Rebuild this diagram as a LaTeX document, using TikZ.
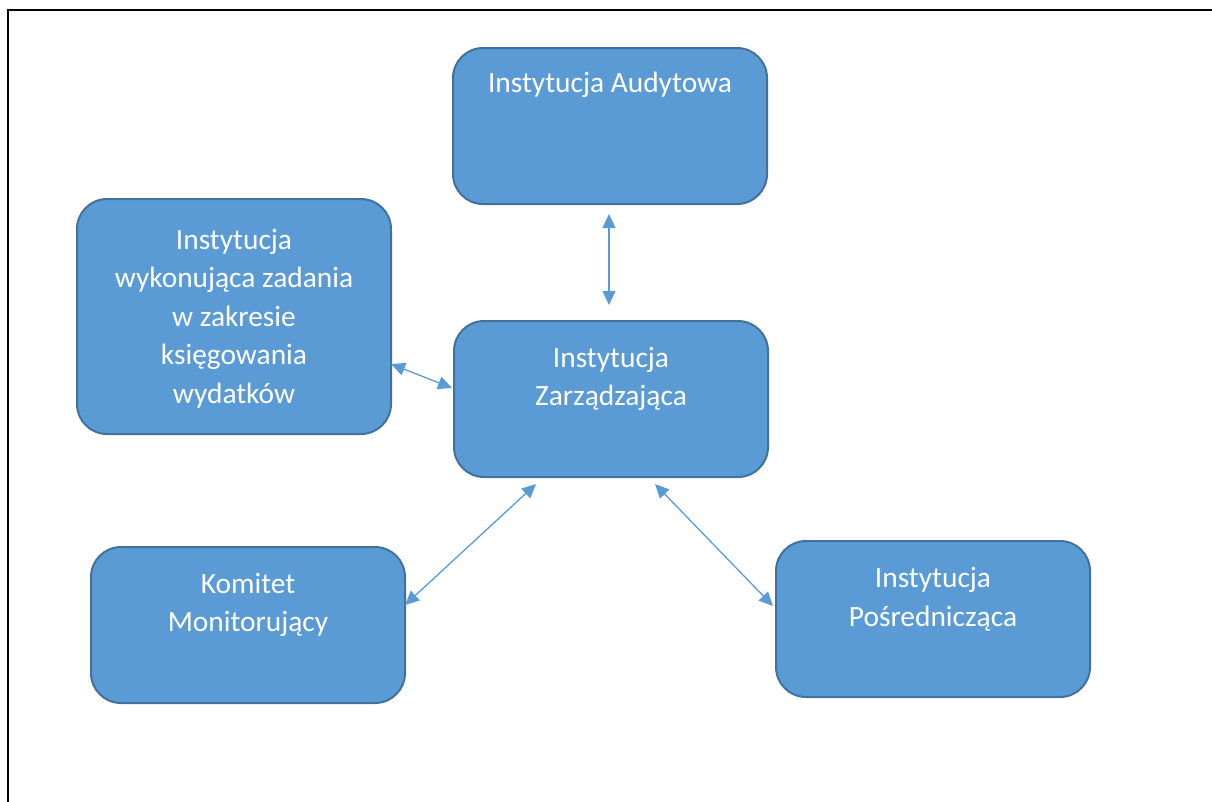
\documentclass[tikz,border=0pt]{standalone}
\usepackage{fontspec}
\setmainfont{Carlito}
\usetikzlibrary{arrows.meta,calc}
\definecolor{boxfill}{HTML}{5B9BD5}
\definecolor{boxline}{HTML}{41719C}
\tikzset{
  box/.style={draw=boxline, fill=boxfill, line width=2pt, rounded corners=30pt,
    minimum width=314pt, minimum height=156pt, inner sep=0pt, anchor=north west},
  txt/.style={text=white, align=center, font=\fontsize{29.4}{38.5}\selectfont, inner sep=0pt},
  link/.style={draw=boxfill, line width=1.3pt, {Triangle[length=14pt,width=13pt]}-{Triangle[length=14pt,width=13pt]}}
}
\begin{document}
\begin{tikzpicture}[x=1pt,y=-1pt]
\useasboundingbox (0,0) rectangle (1212,801);
\draw[line width=2.5pt] (8,812) -- (8,10) -- (1220,10);
% boxes
\node[box] (aud) at (452,47) {};
\node[box, minimum height=235pt] (wyk) at (76,198) {};
\node[box] (zarz) at (453,320) {};
\node[box] (kom) at (90,546) {};
\node[box] (pos) at (775,540) {};
% texts
\node[txt] (taud) at ($(aud.north)+(0,38)$) {Instytucja Audytowa};
\node[txt] (twyk) at ($(wyk.center)+(0,2)$) {Instytucja\\wykonująca zadania\\w zakresie\\księgowania\\wydatków};
\node[txt] (tzarz) at ($(zarz.center)+(0,-20)$) {Instytucja\\Zarządzająca};
\node[txt] (tkom) at ($(kom.center)+(0,-20)$) {Komitet\\Monitorujący};
\node[txt] (tpos) at ($(pos.center)+(0,-20)$) {Instytucja\\Pośrednicząca};
% connector ends
\coordinate (a1) at (609,214);
\coordinate (a2) at (609,305);
\coordinate (b1) at (391,364);
\coordinate (b2) at (452,388);
\coordinate (c1) at (536,484);
\coordinate (c2) at (405,605);
\coordinate (d1) at (655,484);
\coordinate (d2) at (773,606);
\draw[link] (a1) -- (a2);
\draw[link] (b1) -- (b2);
\draw[link] (c1) -- (c2);
\draw[link] (d1) -- (d2);
\end{tikzpicture}
\end{document}
